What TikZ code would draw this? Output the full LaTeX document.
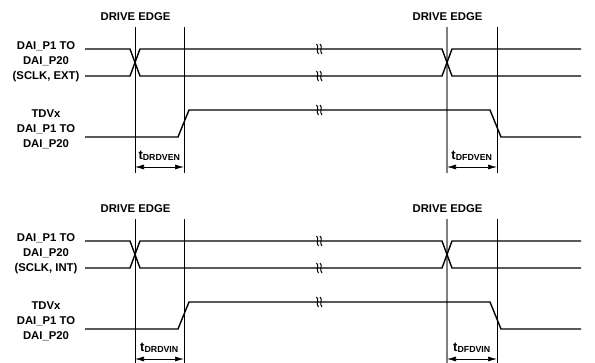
\documentclass[tikz,border=0pt]{standalone}
\usepackage{fontspec}
\setmainfont{Liberation Sans}
\usetikzlibrary{arrows.meta}
\begin{document}
\begin{tikzpicture}[x=1pt,y=-1pt,
  sig/.style={line width=1.4pt, line join=miter},
  vline/.style={line width=0.6pt, draw=black},
  gline/.style={line width=1.1pt, draw=black!50},
  brk/.style={line width=1pt},
  lbl/.style={font=\fontsize{11.3}{15}\selectfont\bfseries, align=center, inner sep=0pt},
  tlbl/.style={font=\fontsize{13}{14}\selectfont\bfseries, inner sep=0pt},
  dim/.style={line width=0.7pt, {Latex[length=9pt,width=5pt]}-{Latex[length=9pt,width=5pt]}}
]
\useasboundingbox (0,0) rectangle (595,362);
\foreach \o/\nm/\tl/\tr in {0/EXT/DRDVEN/DFDVEN, 192/INT/DRDVIN/DFDVIN}{
  \begin{scope}[yshift=-\o pt]
    % labels
    \node[lbl] (de1\nm) at (135.5,17) {DRIVE EDGE};
    \node[lbl] (de2\nm) at (447.5,17) {DRIVE EDGE};
    \node[lbl] (clk\nm) at (46,62) {DAI\_P1 TO\\DAI\_P20\\(SCLK, \nm)};
    \node[lbl] (tdv\nm) at (46,129) {TDVx\\DAI\_P1 TO\\DAI\_P20};
    % edges
    \coordinate (a1\nm) at (135,27); \coordinate (b1\nm) at (135,173);
    \coordinate (a2\nm) at (184,27); \coordinate (b2\nm) at (184,173);
    \coordinate (a3\nm) at (447,27); \coordinate (b3\nm) at (447,173);
    \coordinate (a4\nm) at (497,27); \coordinate (b4\nm) at (497,173);
    \draw[vline] (a1\nm) -- (b1\nm);
    \draw[vline] (a2\nm) -- (b2\nm);
    \draw[gline] (a3\nm) -- (b3\nm);
    \draw[vline] (a4\nm) -- (b4\nm);
    % clock signals
    \draw[sig] (85,49) -- (130,49) -- (140,76) -- (442,76) -- (452,49) -- (581,49);
    \draw[sig] (85,76) -- (130,76) -- (140,49) -- (442,49) -- (452,76) -- (581,76);
    % TDV signal
    \draw[sig] (85,137) -- (178,137) -- (189,110) -- (490,110) -- (501,137) -- (581,137);
    % break marks
    \foreach \yy in {49,76,110}{
      \foreach \xx in {317.5,321}{
        \draw[brk] (\xx-1,\yy-5) .. controls (\xx+2.2,\yy-3) and (\xx-2.2,\yy+2) .. (\xx+1,\yy+5);
      }
    }
    % timing labels
    \node[tlbl, anchor=base] (tl\nm) at (159.5,159) {t\textsubscript{\fontsize{8.8}{9}\selectfont \tl}};
    \node[tlbl, anchor=base] (tr\nm) at (472,159) {t\textsubscript{\fontsize{8.8}{9}\selectfont \tr}};
    \coordinate (l1\nm) at (135,167); \coordinate (l2\nm) at (184,167);
    \coordinate (r1\nm) at (447,167); \coordinate (r2\nm) at (497,167);
    \draw[dim] (l1\nm) -- (l2\nm);
    \draw[dim] (r1\nm) -- (r2\nm);
  \end{scope}
}
\end{tikzpicture}
\end{document}
